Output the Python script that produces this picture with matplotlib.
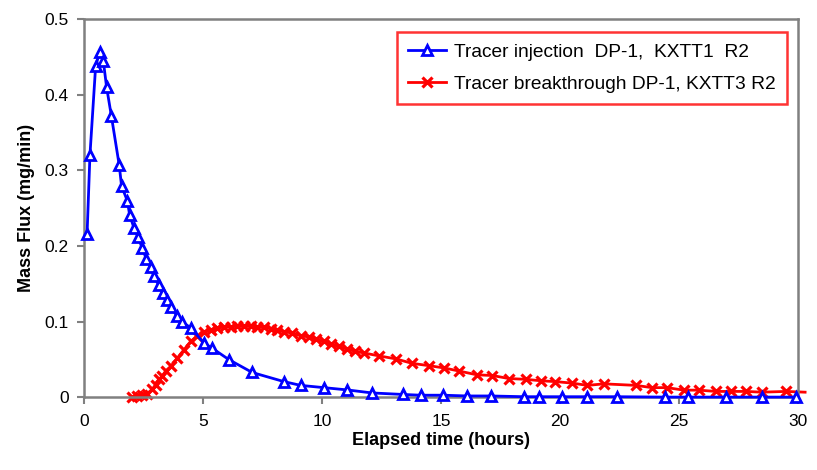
import matplotlib
matplotlib.use("Agg")
import matplotlib.pyplot as plt

plt.rcParams['font.family'] = ['Liberation Sans', 'DejaVu Sans']

# tracer injection, DP-1 KXTT1 R2
inj_t = [0.13, 0.25, 0.49, 0.66, 0.81, 0.95, 1.15, 1.48, 1.58, 1.82, 1.92, 2.1, 2.27,
         2.45, 2.62, 2.8, 2.94, 3.15, 3.31, 3.5, 3.64, 3.92, 4.13, 4.48, 5.04, 5.39,
         6.09, 7.07, 8.4, 9.1, 10.08, 11.06, 12.1, 13.4, 14.15, 15.1, 16.1, 17.1,
         18.5, 19.1, 20.1, 21.15, 22.4, 24.4, 25.4, 26.96, 28.5, 29.9]
inj_flux = [0.216, 0.32, 0.438, 0.456, 0.445, 0.41, 0.372, 0.307, 0.279, 0.26, 0.241,
            0.224, 0.212, 0.197, 0.183, 0.173, 0.16, 0.148, 0.138, 0.129, 0.12, 0.107,
            0.1, 0.092, 0.072, 0.065, 0.05, 0.033, 0.021, 0.016, 0.013, 0.01, 0.006,
            0.004, 0.003, 0.003, 0.002, 0.002, 0.001, 0.001, 0.001, 0.001, 0.001,
            0.0005, 0.0005, 0.0005, 0.0005, 0.0005]

# tracer breakthrough, DP-1 KXTT3 R2
brk_t = [2.03, 2.24, 2.45, 2.66, 2.87, 3.01, 3.15, 3.29, 3.43, 3.64, 3.92, 4.2, 4.48,
         4.76, 5.04, 5.32, 5.6, 5.88, 6.16, 6.44, 6.72, 7.0, 7.28, 7.56, 7.84, 8.12,
         8.4, 8.75, 9.1, 9.45, 9.73, 10.08, 10.36, 10.7, 11.06, 11.39, 11.76, 12.39,
         13.1, 13.8, 14.5, 15.13, 15.75, 16.5, 17.16, 17.86, 18.56, 19.22, 19.8, 20.5,
         21.15, 21.85, 23.18, 23.87, 24.5, 25.2, 25.84, 26.54, 27.17, 27.83, 28.47,
         29.5, 30.3]
brk_flux = [0.001, 0.002, 0.003, 0.005, 0.011, 0.017, 0.024, 0.028, 0.035, 0.041,
            0.052, 0.063, 0.074, 0.081, 0.086, 0.0886, 0.0917, 0.093, 0.0935, 0.094,
            0.094, 0.094, 0.093, 0.0925, 0.091, 0.089, 0.087, 0.085, 0.0815, 0.08,
            0.077, 0.074, 0.0706, 0.0675, 0.064, 0.061, 0.0588, 0.055, 0.051, 0.045,
            0.042, 0.039, 0.035, 0.03, 0.029, 0.025, 0.024, 0.022, 0.021, 0.019, 0.016,
            0.018, 0.016, 0.013, 0.013, 0.0097, 0.0097, 0.008, 0.008, 0.008, 0.007,
            0.008, 0.007]

fig = plt.figure(figsize=(8.17, 4.70), dpi=100)
ax = fig.add_axes([0.1028, 0.1543, 0.8739, 0.8053])

ax.plot(inj_t, inj_flux, color='#0000ff', lw=2, marker='^', ms=7.5,
        mfc='white', mec='#0000ff', mew=2, clip_on=False, zorder=3,
        label='Tracer injection  DP-1,  KXTT1  R2')
ax.plot(brk_t, brk_flux, color='#ff0000', lw=2, marker='x', ms=7, mew=2.3,
        markevery=list(range(len(brk_t) - 1)), clip_on=False, zorder=2,
        label='Tracer breakthrough DP-1, KXTT3 R2')

ax.set_xlim(0, 30)
ax.set_ylim(0, 0.5)
ax.set_xticks([0, 5, 10, 15, 20, 25, 30])
ax.set_yticks([0, 0.1, 0.2, 0.3, 0.4, 0.5])
ax.set_yticklabels(['0', '0.1', '0.2', '0.3', '0.4', '0.5'])

for sp in ax.spines.values():
    sp.set_color('#808080')
    sp.set_linewidth(1.8)
ax.tick_params(direction='out', length=5, width=1.5, color='#808080',
               labelsize=12.5, pad=6)
ax.tick_params(axis='x', pad=7)

ax.set_xlabel('Elapsed time (hours)', fontsize=13, fontweight='bold', labelpad=2)
ax.set_ylabel('Mass Flux (mg/min)', fontsize=13, fontweight='bold', labelpad=7)

leg = ax.legend(loc='upper right', bbox_to_anchor=(0.985, 0.966), borderaxespad=0,
                fontsize=13.8, frameon=True, fancybox=False, handlelength=2.0,
                borderpad=0.6, labelspacing=0.75, handletextpad=0.4)
leg.get_frame().set_edgecolor('#ff0000')
leg.get_frame().set_linewidth(1.8)

fig.savefig('out.png', dpi=100)
